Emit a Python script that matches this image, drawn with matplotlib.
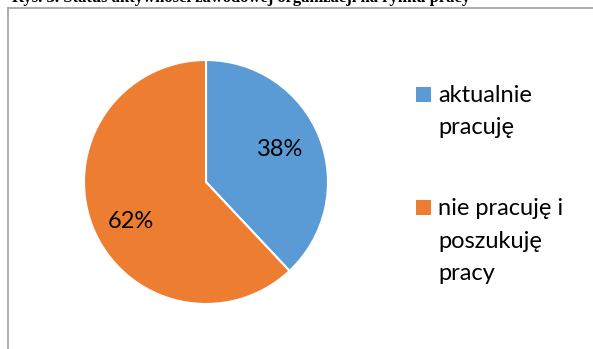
import matplotlib
matplotlib.use("Agg")
import matplotlib.pyplot as plt
from matplotlib.patches import Rectangle
from matplotlib.lines import Line2D

categories = ["aktualnie\npracuję", "nie pracuję i\nposzukuję\npracy"]
values = [38, 62]
colors = ["#5B9BD5", "#ED7D31"]
title = "Rys. 3. Status aktywności zawodowej organizacji na rynku pracy"

W, H = 593, 349
FONT = "Lato"
FS = 17
fig = plt.figure(figsize=(W / 100, H / 100), dpi=100)
ax = fig.add_axes([0, 0, 1, 1])
ax.axis("off")

wedges, texts = ax.pie(values, colors=colors, startangle=90, counterclock=False,
                       center=(206, H - 182), radius=122,
                       wedgeprops=dict(edgecolor="white", linewidth=1.5))
ax.set_xlim(0, W)
ax.set_ylim(0, H)
ax.set_aspect("equal")

# percent labels
label_pos = [(280, H - 149), (131, H - 222)]
for (x, y), v in zip(label_pos, values):
    ax.text(x, y, f"{v}%", fontsize=FS, family=FONT,
            ha="center", va="center", color="black")

# frame
fig.add_artist(Line2D([8 / W, 8 / W], [0, 1 - 8 / H], color="#A0A0A0", lw=1.2))
fig.add_artist(Line2D([8 / W, 1], [1 - 8 / H, 1 - 8 / H], color="#A0A0A0", lw=1.2))

# cut-off title
ax.text(12, H - 2.5, title, fontsize=12, family="Liberation Serif",
        fontweight="bold", ha="left", va="baseline", clip_on=False)

# legend (manual)
first_baselines = [102, 215]
for cat, col, yb in zip(categories, colors, first_baselines):
    ax.add_patch(Rectangle((416, H - yb), 15, 15, facecolor=col, edgecolor="none"))
    for k, line in enumerate(cat.split("\n")):
        ax.text(438, H - (yb + 32.5 * k), line, fontsize=FS, family=FONT,
                ha="left", va="baseline", color="black")

fig.savefig("out.png", dpi=100)
